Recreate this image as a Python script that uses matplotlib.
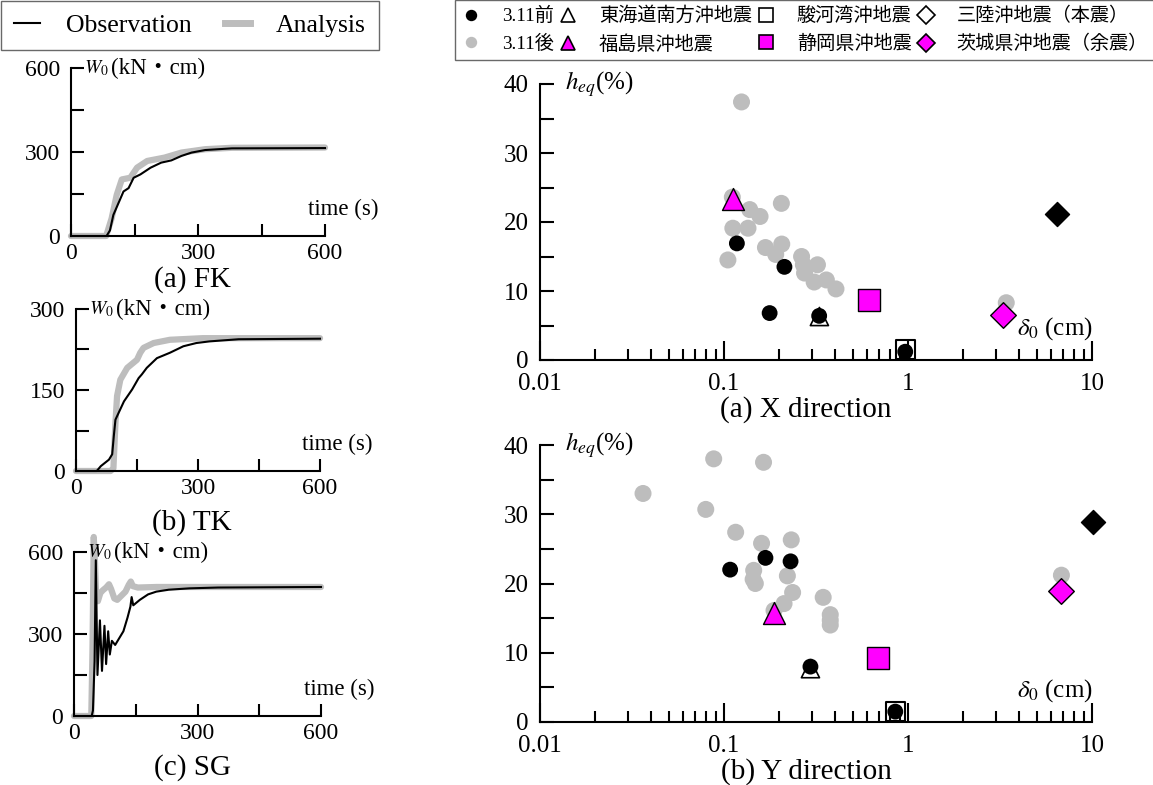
#!/usr/bin/env python
# Energy input histories and equivalent damping vs. displacement

import matplotlib
matplotlib.use('Agg')
import matplotlib.pyplot as plt
from matplotlib.lines import Line2D
from matplotlib.ticker import MultipleLocator, FixedLocator, NullFormatter

plt.rcParams['font.family'] = ['Liberation Serif', 'Noto Sans CJK JP']
plt.rcParams['mathtext.fontset'] = 'stix'

# ---- time histories of W0 ----
fk_obs_t = [0, 84, 92, 100, 112, 124, 136, 148, 164, 188, 213, 237, 261, 285, 317, 380, 600]
fk_obs_w = [0, 0, 20, 75, 117, 159, 171, 208, 220, 244, 262, 270, 286, 298, 307, 313, 314]
fk_ana_t = [0, 83, 96, 108, 120, 140, 156, 180, 221, 261, 317, 380, 600]
fk_ana_w = [0, 0, 63, 147, 202, 208, 244, 268, 280, 298, 310, 315, 316]

tk_obs_t = [0, 51, 61, 81, 89, 93, 97, 105, 118, 138, 154, 162, 174, 199, 231, 264, 296, 328, 400, 600]
tk_obs_w = [0, 0, 9, 21, 31, 65, 95, 108, 129, 151, 172, 179, 191, 209, 219, 231, 237, 240, 244, 245]
tk_ana_t = [0, 85, 92, 97, 101, 109, 126, 150, 158, 166, 191, 231, 312, 600]
tk_ana_w = [0, 0, 5, 89, 139, 169, 191, 206, 219, 228, 237, 243, 246, 246]

sg_obs_t = [0, 43, 46, 50, 53, 57, 63, 68, 74, 78, 83, 87, 92, 100, 110, 120, 130, 137, 140, 144,
            160, 180, 200, 230, 280, 350, 600]
sg_obs_w = [0, 0, 20, 200, 570, 150, 350, 165, 330, 190, 310, 225, 275, 260, 285, 310, 360, 400, 435, 405,
            425, 445, 455, 462, 467, 470, 472]
sg_ana_t = [0, 42, 45, 48, 51, 54, 58, 64, 70, 78, 85, 90, 98, 105, 115, 125, 133, 138, 143, 155, 200, 600]
sg_ana_w = [0, 0, 250, 655, 560, 430, 420, 450, 460, 470, 482, 465, 430, 425, 440, 455, 480, 492, 475, 470, 472, 472]

# ---- h_eq vs delta_0, X direction ----
x_after_d = [0.1245, 0.1117, 0.105, 0.138, 0.135, 0.157, 0.205, 0.168, 0.206, 0.191, 0.264, 0.27,
             0.322, 0.274, 0.309, 0.36, 0.406, 0.111, 3.42]
x_after_h = [37.4, 19.1, 14.5, 21.8, 19.1, 20.8, 22.7, 16.3, 16.8, 15.3, 15.0, 13.8,
             13.8, 12.6, 11.3, 11.6, 10.3, 23.6, 8.3]
x_before_d = [0.1175, 0.213, 0.177, 0.329, 0.966]
x_before_h = [16.9, 13.5, 6.8, 6.4, 1.2]
x_tokai = (0.33, 6.3)
x_suruga = (0.966, 1.5)
x_sanriku = (6.48, 21.1)
x_fukushima = (0.1117, 23.3)
x_shizuoka = (0.611, 8.7)
x_ibaraki = (3.30, 6.5)

# ---- h_eq vs delta_0, Y direction ----
y_after_d = [0.0363, 0.0879, 0.0796, 0.164, 0.1157, 0.16, 0.232, 0.145, 0.144, 0.148, 0.221, 0.236,
             0.212, 0.187, 0.346, 0.378, 0.378, 0.378, 6.82]
y_after_h = [33.0, 38.0, 30.7, 37.5, 27.4, 25.8, 26.3, 21.9, 20.6, 20.0, 21.1, 18.7,
             17.1, 16.1, 18.0, 15.5, 14.7, 14.0, 21.2]
y_before_d = [0.108, 0.168, 0.23, 0.295, 0.853]
y_before_h = [22.0, 23.7, 23.2, 8.0, 1.5]
y_tokai = (0.295, 7.7)
y_suruga = (0.853, 1.5)
y_sanriku = (10.07, 28.9)
y_fukushima = (0.188, 15.8)
y_shizuoka = (0.684, 9.2)
y_ibaraki = (6.82, 18.9)

GRAY = '#bdbdbd'
MAG = '#ff00ff'
W, H = 1153, 785


def px_box(x0, x1, ytop, ybot):
    return [x0 / W, 1 - ybot / H, (x1 - x0) / W, (ybot - ytop) / H]


def style_axes(ax, fs):
    for s in ['top', 'right']:
        ax.spines[s].set_visible(False)
    for s in ['left', 'bottom']:
        ax.spines[s].set_linewidth(1.5)
    ax.tick_params(which='both', direction='in', width=1.5, labelsize=fs)


def history_panel(box, t_obs, w_obs, t_ana, w_ana, ymax, caption, cap_y):
    ax = fig.add_axes(px_box(*box))
    ax.plot(t_ana, w_ana, color=GRAY, lw=4.5, clip_on=False, solid_capstyle='round')
    ax.plot(t_obs, w_obs, color='black', lw=1.5, clip_on=False)
    ax.set_xlim(0, 600)
    ax.set_ylim(0, ymax)
    style_axes(ax, 17)
    ax.xaxis.set_major_locator(MultipleLocator(300))
    ax.xaxis.set_minor_locator(MultipleLocator(150))
    ax.yaxis.set_major_locator(MultipleLocator(ymax / 2))
    ax.yaxis.set_minor_locator(MultipleLocator(ymax / 4))
    ax.tick_params(which='both', length=9)
    ax.tick_params(axis='y', pad=8)
    ax.tick_params(axis='x', pad=5)
    ax.annotate(r'$W_0$', xy=(0, ymax), xytext=(13, 0), textcoords='offset pixels',
                ha='left', va='center', fontsize=14)
    ax.annotate('(kN・cm)', xy=(0, ymax), xytext=(40, 0), textcoords='offset pixels',
                ha='left', va='center', fontsize=16.5)
    ax.annotate('time (s)', xy=(600, 0), xytext=(53, 27), textcoords='offset pixels',
                ha='right', va='center', fontsize=16.5)
    fig.text(192 / W, 1 - cap_y / H, caption, ha='center', va='center', fontsize=21)
    return ax


def damping_panel(box, after_d, after_h, before_d, before_h, tokai, suruga, sanriku,
                  fukushima, shizuoka, ibaraki, caption, cap_y):
    ax = fig.add_axes(px_box(*box))
    ax.scatter(after_d, after_h, s=150, color=GRAY, edgecolors='none', zorder=2, clip_on=False)
    ax.scatter([tokai[0]], [tokai[1]], marker='^', s=170, facecolors='none', edgecolors='black',
               linewidths=1.2, zorder=3, clip_on=False)
    ax.scatter([suruga[0]], [suruga[1]], marker='s', s=190, facecolors='none', edgecolors='black',
               linewidths=1.5, zorder=3, clip_on=False)
    ax.scatter(before_d, before_h, s=130, color='black', edgecolors='none', zorder=4, clip_on=False)
    ax.scatter([sanriku[0]], [sanriku[1]], marker='D', s=150, color='black', zorder=5, clip_on=False)
    ax.scatter([fukushima[0]], [fukushima[1]], marker='^', s=250, color=MAG, edgecolors='black',
               linewidths=1.0, zorder=5, clip_on=False)
    ax.scatter([shizuoka[0]], [shizuoka[1]], marker='s', s=260, color=MAG, edgecolors='black',
               linewidths=1.0, zorder=5, clip_on=False)
    ax.scatter([ibaraki[0]], [ibaraki[1]], marker='D', s=170, color=MAG, edgecolors='black',
               linewidths=1.0, zorder=5, clip_on=False)
    ax.set_xscale('log')
    ax.set_xlim(0.01, 10)
    ax.set_ylim(0, 40)
    style_axes(ax, 18)
    ax.xaxis.set_major_locator(FixedLocator([0.01, 0.1, 1, 10]))
    ax.set_xticklabels(['0.01', '0.1', '1', '10'])
    minors = [m * d for d in [0.01, 0.1, 1] for m in range(2, 10)]
    ax.xaxis.set_minor_locator(FixedLocator(minors))
    ax.xaxis.set_minor_formatter(NullFormatter())
    ax.tick_params(axis='x', which='major', length=14, pad=9)
    ax.tick_params(axis='x', which='minor', length=8)
    ax.yaxis.set_major_locator(MultipleLocator(10))
    ax.yaxis.set_minor_locator(MultipleLocator(5))
    ax.tick_params(axis='y', which='both', length=10, pad=8)
    ax.annotate(r'$h_{eq}$(%)', xy=(0.01, 40), xytext=(25, 0), textcoords='offset pixels',
                ha='left', va='center', fontsize=18)
    ax.annotate(r'$\delta_0$ (cm)', xy=(10, 0), xytext=(1, 31), textcoords='offset pixels',
                ha='right', va='center', fontsize=18)
    fig.text(806 / W, 1 - cap_y / H, caption, ha='center', va='center', fontsize=21)
    return ax


fig = plt.figure(figsize=(W / 100, H / 100), dpi=100)

history_panel((71, 325, 68, 236), fk_obs_t, fk_obs_w, fk_ana_t, fk_ana_w, 600, '(a) FK', 280)
history_panel((76, 320, 309, 471), tk_obs_t, tk_obs_w, tk_ana_t, tk_ana_w, 300, '(b) TK', 523)
history_panel((74, 321, 552, 716), sg_obs_t, sg_obs_w, sg_ana_t, sg_ana_w, 600, '(c) SG', 768)

damping_panel((540, 1092, 84, 360), x_after_d, x_after_h, x_before_d, x_before_h, x_tokai, x_suruga,
              x_sanriku, x_fukushima, x_shizuoka, x_ibaraki, '(a) X direction', 410)
damping_panel((540, 1092, 445, 722), y_after_d, y_after_h, y_before_d, y_before_h, y_tokai, y_suruga,
              y_sanriku, y_fukushima, y_shizuoka, y_ibaraki, '(b) Y direction', 772)

# left legend
h_left = [Line2D([], [], color='black', lw=1.5), Line2D([], [], color=GRAY, lw=5)]
leg1 = fig.legend(h_left, ['Observation', 'Analysis'], ncol=2, loc='upper left',
                  bbox_to_anchor=(0.0, 1.0), borderaxespad=0.05, fontsize=18.5, handlelength=1.0,
                  handletextpad=1.0, columnspacing=1.3, fancybox=False, edgecolor='#444444',
                  borderpad=0.5)
leg1.get_frame().set_linewidth(1.0)

# right legend
def mk(marker, fc, ec, ms):
    return Line2D([], [], linestyle='none', marker=marker, markerfacecolor=fc,
                  markeredgecolor=ec, markersize=ms, markeredgewidth=1.2)

h_right = [mk('o', 'black', 'black', 7), mk('o', GRAY, GRAY, 7),
           mk('^', 'none', 'black', 10), mk('^', MAG, 'black', 10),
           mk('s', 'none', 'black', 10), mk('s', MAG, 'black', 10),
           mk('D', 'none', 'black', 9), mk('D', MAG, 'black', 9)]
l_right = ['3.11前', '3.11後', '東海道南方沖地震', '福島県沖地震',
           '駿河湾沖地震', '静岡県沖地震', '三陸沖地震（本震）', '茨城県沖地震（余震）']
leg2 = fig.legend(h_right, l_right, ncol=4, loc='upper left', bbox_to_anchor=(455 / W, 1.0),
                  borderaxespad=0.0, fontsize=13.8, handlelength=1.0, handletextpad=1.1,
                  columnspacing=0.25, labelspacing=0.5, fancybox=False, edgecolor='#444444',
                  borderpad=0.35)
leg2.get_frame().set_linewidth(1.0)

fig.savefig('out.png', dpi=100)
